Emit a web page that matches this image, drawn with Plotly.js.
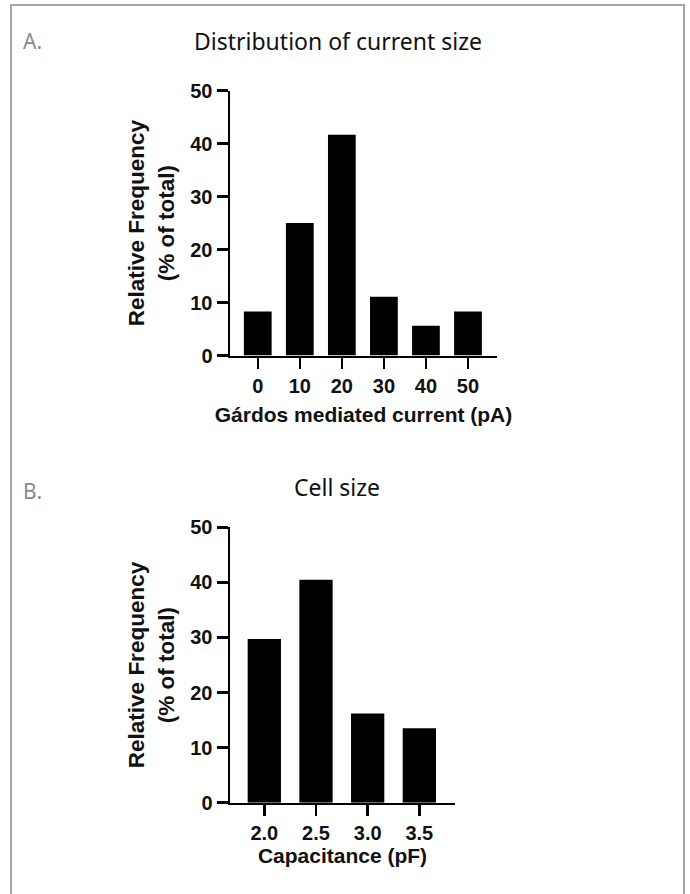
<!DOCTYPE html>
<html>
<head>
<meta charset="utf-8">
<script src="https://cdn.plot.ly/plotly-3.0.1.min.js"></script>
<style>html,body{margin:0;padding:0;background:#fff;}#chart{width:690px;height:894px;}</style>
</head>
<body>
<div id="chart"></div>
<script>
// Panel A: distribution of current size
const currentBins = [0, 10, 20, 30, 40, 50];
const currentFreq = [8.3, 25.0, 41.7, 11.1, 5.6, 8.3];
// Panel B: cell size
const capBins = [2.0, 2.5, 3.0, 3.5];
const capLabels = ['2.0', '2.5', '3.0', '3.5'];
const capFreq = [29.7, 40.5, 16.2, 13.5];
const yTicks = [0, 10, 20, 30, 40, 50];

const titleA = 'Distribution of current size';
const titleB = 'Cell size';
const xTitleA = 'Gárdos mediated current (pA)';
const xTitleB = 'Capacitance (pF)';
const yTitle = 'Relative Frequency<br>(% of total)';

const W = 690, H = 894;
const px = v => v / W;
const py = v => 1 - v / H;

const tickFont = {family: 'Liberation Sans, Arial, sans-serif', size: 20, color: '#111', weight: 'bold'};
const xTitleFont = {family: 'Liberation Sans, Arial, sans-serif', size: 21, color: '#111', weight: 'bold'};
const yTitleFont = {family: 'Liberation Sans, Arial, sans-serif', size: 22.5, color: '#111', weight: 'bold'};
const axBase = {
  showline: true, linecolor: '#000', linewidth: 2.5,
  ticks: 'outside', ticklen: 11, tickwidth: 2.5, tickcolor: '#000',
  showgrid: false, zeroline: false, tickfont: tickFont, fixedrange: true
};

const traces = [
  {type: 'bar', x: currentBins, y: currentFreq, width: 6.6, xaxis: 'x', yaxis: 'y',
   marker: {color: '#000', line: {width: 0}}, hoverinfo: 'x+y'},
  {type: 'bar', x: capBins, y: capFreq, width: 0.322, xaxis: 'x2', yaxis: 'y2',
   marker: {color: '#000', line: {width: 0}}, hoverinfo: 'x+y'}
];

const layout = {
  width: W, height: H,
  margin: {l: 0, r: 0, t: 0, b: 0},
  paper_bgcolor: '#fff', plot_bgcolor: '#fff',
  showlegend: false,
  xaxis: Object.assign({}, axBase, {
    domain: [px(230), px(497)], range: [-6.6, 56.9], anchor: 'y',
    tickvals: currentBins, ticktext: currentBins.map(String),
    title: {text: xTitleA, font: xTitleFont, standoff: 12}
  }),
  yaxis: Object.assign({}, axBase, {
    domain: [py(355.5), py(90.7)], range: [0, 50], anchor: 'x',
    tickvals: yTicks,
    title: {text: yTitle, font: yTitleFont, standoff: 10}
  }),
  xaxis2: Object.assign({}, axBase, {
    domain: [px(230), px(455)], range: [1.668, 3.845], anchor: 'y2',
    tickvals: capBins, ticktext: capLabels,
    title: {text: xTitleB, font: xTitleFont, standoff: 2}
  }),
  yaxis2: Object.assign({}, axBase, {
    domain: [py(802.7), py(527.3)], range: [0, 50], anchor: 'x2',
    tickvals: yTicks,
    title: {text: yTitle, font: yTitleFont, standoff: 10}
  }),
  annotations: [
    {text: titleA, xref: 'paper', yref: 'paper', x: px(338), y: py(41), xanchor: 'center', yanchor: 'middle',
     showarrow: false, font: {family: 'Noto Sans, Open Sans, sans-serif', size: 23, color: '#111'}},
    {text: 'A.', xref: 'paper', yref: 'paper', x: px(21), y: py(41), xanchor: 'left', yanchor: 'middle',
     showarrow: false, font: {family: 'Noto Sans, Open Sans, sans-serif', size: 21, color: '#8a8a8a'}},
    {text: titleB, xref: 'paper', yref: 'paper', x: px(337), y: py(487), xanchor: 'center', yanchor: 'middle',
     showarrow: false, font: {family: 'Noto Sans, Open Sans, sans-serif', size: 23, color: '#111'}},
    {text: 'B.', xref: 'paper', yref: 'paper', x: px(21), y: py(491), xanchor: 'left', yanchor: 'middle',
     showarrow: false, font: {family: 'Noto Sans, Open Sans, sans-serif', size: 21, color: '#8a8a8a'}}
  ],
  shapes: [
    {type: 'line', xref: 'paper', yref: 'paper', x0: px(10), x1: px(685), y0: py(5), y1: py(5), line: {color: '#a6a6a6', width: 2}},
    {type: 'line', xref: 'paper', yref: 'paper', x0: px(684), x1: px(684), y0: py(5), y1: py(900), line: {color: '#a6a6a6', width: 2}},
    {type: 'line', xref: 'paper', yref: 'paper', x0: px(11), x1: px(11), y0: py(5), y1: py(900), line: {color: '#a6a6a6', width: 2}}
  ]
};

Plotly.newPlot('chart', traces, layout, {displayModeBar: false, staticPlot: true});
</script>
</body>
</html>
